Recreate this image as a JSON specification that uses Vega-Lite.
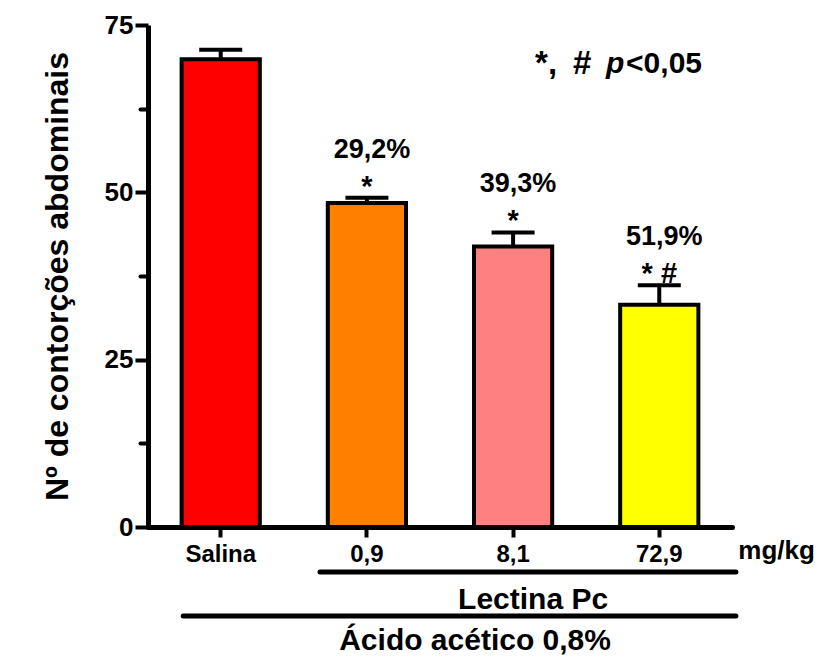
{
  "$schema": "https://vega.github.io/schema/vega-lite/v6.json",
  "width": 584,
  "height": 502,
  "autosize": {"type": "none"},
  "padding": {"left": 148, "top": 25, "right": 88, "bottom": 130},
  "background": "white",
  "config": {
    "view": {"stroke": null},
    "font": "Liberation Sans",
    "text": {"font": "Liberation Sans", "fontWeight": "bold", "color": "black"}
  },
  "datasets": {
    "grupos": [
      {"grupo": "Salina", "media": 69.9, "superior": 71.3, "inibicao": "", "sig": ""},
      {"grupo": "0,9", "media": 48.4, "superior": 49.2, "inibicao": "29,2%", "sig": "*"},
      {"grupo": "8,1", "media": 41.9, "superior": 44.0, "inibicao": "39,3%", "sig": "*"},
      {"grupo": "72,9", "media": 33.2, "superior": 36.1, "inibicao": "51,9%", "sig": "* #"}
    ],
    "chaves": [
      {"rotulo": "Lectina Pc", "de": "0,9", "ate": "72,9"},
      {"rotulo": "Ácido acético 0,8%", "de": "Salina", "ate": "72,9"}
    ],
    "nota": [
      {"parte1": "*,", "parte2": "#", "parte3": "p", "parte4": "<0,05", "unidade": "mg/kg"}
    ]
  },
  "layer": [
    {
      "data": {"name": "grupos"},
      "mark": {"type": "bar", "stroke": "black", "strokeWidth": 4},
      "encoding": {
        "x": {
          "field": "grupo", "type": "nominal",
          "scale": {"domain": ["Salina", "0,9", "8,1", "72,9"], "paddingInner": 0.465, "paddingOuter": 0.23},
          "axis": {
            "title": null, "labelAngle": 0, "labelFont": "Liberation Sans", "labelFontWeight": "bold",
            "labelFontSize": 24, "labelColor": "black", "labelPadding": 5,
            "tickSize": 10, "tickWidth": 4, "tickColor": "black",
            "domainWidth": 5, "domainColor": "black", "domainCap": "round"
          }
        },
        "y": {
          "field": "media", "type": "quantitative",
          "scale": {"domain": [0, 75], "nice": false},
          "axis": {
            "orient": "left", "values": [0, 25, 50, 75], "grid": false,
            "title": "Nº de contorções abdominais", "titleFont": "Liberation Sans", "titleFontSize": 32,
            "titleFontWeight": "bold", "titleColor": "black", "titlePadding": 30,
            "labelFont": "Liberation Sans", "labelFontSize": 26, "labelFontWeight": "bold", "labelColor": "black", "labelPadding": 2,
            "tickSize": 13, "tickWidth": 4, "tickColor": "black",
            "domainWidth": 5, "domainColor": "black"
          }
        },
        "fill": {
          "field": "grupo", "type": "nominal",
          "scale": {"domain": ["Salina", "0,9", "8,1", "72,9"], "range": ["#FF0000", "#FF8000", "#FF8080", "#FFFF00"]},
          "legend": null
        }
      }
    },
    {
      "data": {"name": "grupos"},
      "mark": {"type": "point", "opacity": 0},
      "encoding": {
        "y": {
          "field": "media", "type": "quantitative",
          "scale": {"domain": [0, 75], "nice": false},
          "axis": {
            "orient": "left", "values": [12.5, 37.5, 62.5], "labels": false, "title": null,
            "domain": false, "grid": false, "tickSize": 8, "tickWidth": 4, "tickColor": "black", "tickCap": "round"
          }
        }
      }
    },
    {
      "data": {"name": "grupos"},
      "mark": {"type": "rule", "strokeWidth": 4, "color": "black"},
      "encoding": {
        "x": {"field": "grupo", "type": "nominal"},
        "y": {"field": "media", "type": "quantitative", "axis": null},
        "y2": {"field": "superior"}
      }
    },
    {
      "data": {"name": "grupos"},
      "mark": {"type": "tick", "thickness": 4, "size": 43, "color": "black", "opacity": 1},
      "encoding": {
        "x": {"field": "grupo", "type": "nominal"},
        "y": {"field": "superior", "type": "quantitative", "axis": null}
      }
    },
    {
      "data": {"name": "grupos"},
      "mark": {"type": "text", "fontSize": 29, "fontWeight": "bold", "baseline": "alphabetic", "align": "center", "dy": -2},
      "encoding": {
        "x": {"field": "grupo", "type": "nominal"},
        "y": {"field": "superior", "type": "quantitative", "axis": null},
        "text": {"field": "sig"}
      }
    },
    {
      "data": {"name": "grupos"},
      "mark": {"type": "text", "fontSize": 27, "fontWeight": "bold", "baseline": "alphabetic", "align": "center", "dx": 5, "dy": -40},
      "encoding": {
        "x": {"field": "grupo", "type": "nominal"},
        "y": {"field": "superior", "type": "quantitative", "axis": null},
        "text": {"field": "inibicao"}
      }
    },
    {
      "data": {"name": "nota"},
      "mark": {"type": "text", "fontSize": 33, "fontWeight": "bold", "baseline": "alphabetic", "align": "left", "dx": 22, "dy": 49},
      "encoding": {
        "x": {"datum": "8,1", "type": "nominal"},
        "y": {"datum": 75, "type": "quantitative", "axis": null},
        "text": {"field": "parte1"}
      }
    },
    {
      "data": {"name": "nota"},
      "mark": {"type": "text", "fontSize": 33, "fontWeight": "bold", "baseline": "alphabetic", "align": "left", "dx": 60, "dy": 49},
      "encoding": {
        "x": {"datum": "8,1", "type": "nominal"},
        "y": {"datum": 75, "type": "quantitative", "axis": null},
        "text": {"field": "parte2"}
      }
    },
    {
      "data": {"name": "nota"},
      "mark": {"type": "text", "fontSize": 30, "fontWeight": "bold", "fontStyle": "italic", "baseline": "alphabetic", "align": "left", "dx": 93, "dy": 48},
      "encoding": {
        "x": {"datum": "8,1", "type": "nominal"},
        "y": {"datum": 75, "type": "quantitative", "axis": null},
        "text": {"field": "parte3"}
      }
    },
    {
      "data": {"name": "nota"},
      "mark": {"type": "text", "fontSize": 30, "fontWeight": "bold", "baseline": "alphabetic", "align": "left", "dx": 113, "dy": 48},
      "encoding": {
        "x": {"datum": "8,1", "type": "nominal"},
        "y": {"datum": 75, "type": "quantitative", "axis": null},
        "text": {"field": "parte4"}
      }
    },
    {
      "data": {"name": "nota"},
      "mark": {"type": "text", "fontSize": 26, "fontWeight": "bold", "baseline": "alphabetic", "align": "left", "dx": 79, "dy": 32},
      "encoding": {
        "x": {"datum": "72,9", "type": "nominal"},
        "y": {"datum": 0, "type": "quantitative", "axis": null},
        "text": {"field": "unidade"}
      }
    },
    {
      "data": {"name": "chaves"},
      "transform": [{"filter": "datum.rotulo == 'Lectina Pc'"}],
      "mark": {"type": "rule", "strokeWidth": 5, "strokeCap": "round", "color": "black", "yOffset": 45},
      "encoding": {
        "x": {"field": "de", "type": "nominal", "bandPosition": -0.1},
        "x2": {"field": "ate", "bandPosition": 1.48},
        "y": {"datum": 0, "type": "quantitative", "axis": null}
      }
    },
    {
      "data": {"name": "chaves"},
      "transform": [{"filter": "datum.rotulo != 'Lectina Pc'"}],
      "mark": {"type": "rule", "strokeWidth": 5, "strokeCap": "round", "color": "black", "yOffset": 89},
      "encoding": {
        "x": {"field": "de", "type": "nominal", "bandPosition": 0.02},
        "x2": {"field": "ate", "bandPosition": 1.48},
        "y": {"datum": 0, "type": "quantitative", "axis": null}
      }
    },
    {
      "data": {"name": "chaves"},
      "transform": [{"filter": "datum.rotulo == 'Lectina Pc'"}],
      "mark": {"type": "text", "fontSize": 30, "fontWeight": "bold", "baseline": "alphabetic", "align": "center", "dx": 20, "dy": 82},
      "encoding": {
        "x": {"datum": "8,1", "type": "nominal"},
        "y": {"datum": 0, "type": "quantitative", "axis": null},
        "text": {"field": "rotulo"}
      }
    },
    {
      "data": {"name": "chaves"},
      "transform": [{"filter": "datum.rotulo != 'Lectina Pc'"}],
      "mark": {"type": "text", "fontSize": 30, "fontWeight": "bold", "baseline": "alphabetic", "align": "center", "dx": -38, "dy": 123},
      "encoding": {
        "x": {"datum": "8,1", "type": "nominal"},
        "y": {"datum": 0, "type": "quantitative", "axis": null},
        "text": {"field": "rotulo"}
      }
    }
  ],
  "resolve": {"axis": {"y": "independent"}}
}
